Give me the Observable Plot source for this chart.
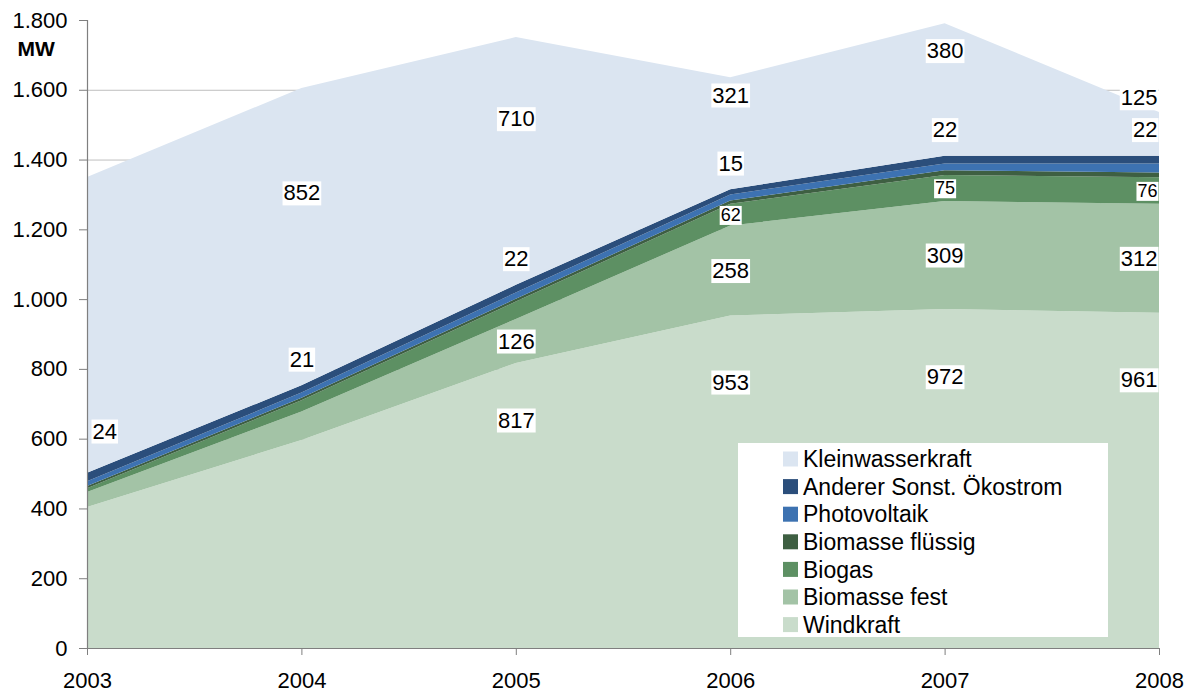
<!DOCTYPE html>
<html>
<head>
<meta charset="utf-8">
<script src="https://cdn.jsdelivr.net/npm/d3@7"></script>
<script src="https://cdn.jsdelivr.net/npm/@observablehq/plot@0.6"></script>
<style>
  html, body { margin: 0; padding: 0; background: white; }
</style>
</head>
<body>
<div id="chart"></div>
<script>
// ---- Data ----
const years = [2003, 2004, 2005, 2006, 2007, 2008];
const seriesNames = ["Windkraft", "Biomasse fest", "Biogas", "Biomasse flüssig", "Photovoltaik", "Anderer Sonst. Ökostrom", "Kleinwasserkraft"];
const windkraft        = [404, 596, 817, 953, 972, 961];
const biomasseFest     = [43, 82, 126, 258, 309, 312];
const biogas           = [11, 32, 50, 62, 75, 76];
const biomasseFluessig = [6, 7, 8, 10, 13, 14];
const photovoltaik     = [14, 15, 18, 17, 20, 26];
const andererSonst     = [24, 21, 22, 15, 22, 22];
const kleinwasserkraft = [848, 852, 710, 321, 380, 125];
const seriesColors = ["#c9dccb", "#a3c3a6", "#5d9063", "#3e5f42", "#3d72b1", "#2b4e7b", "#dbe5f1"];
const yTicks = [0, 200, 400, 600, 800, 1000, 1200, 1400, 1600, 1800];
// years for which a value label is shown, per series
const labeledYears = {
  "Windkraft": [2005, 2006, 2007, 2008],
  "Biomasse fest": [2005, 2006, 2007, 2008],
  "Biogas": [2006, 2007, 2008],
  "Anderer Sonst. Ökostrom": [2003, 2004, 2005, 2006, 2007, 2008],
  "Kleinwasserkraft": [2004, 2005, 2006, 2007, 2008]
};

const values = [windkraft, biomasseFest, biogas, biomasseFluessig, photovoltaik, andererSonst, kleinwasserkraft];
const table = [];
seriesNames.forEach((s, i) => years.forEach((y, j) => table.push({series: s, year: y, value: values[i][j]})));

// label positions derived from the stack
const labels = [];
years.forEach((y, j) => {
  let bottom = 0;
  seriesNames.forEach((s, i) => {
    const v = values[i][j];
    const top = bottom + v;
    if (labeledYears[s] && labeledYears[s].includes(y)) {
      let pos;
      if (s === "Windkraft") pos = bottom + 0.8 * v;
      else if (s === "Anderer Sonst. Ökostrom") pos = top + (j === 0 ? 120 : 75);
      else if (s === "Kleinwasserkraft") pos = bottom + 100 + 0.53 * v;
      else pos = bottom + 0.5 * v;
      labels.push({year: y, pos, text: String(v), size: s === "Biogas" ? 18 : 22});
    }
    bottom = top;
  });
});

const de = d3.formatLocale({decimal: ",", thousands: ".", grouping: [3], currency: ["", " €"]});
const fmt = de.format(",");

const font = "'Liberation Sans', Arial, sans-serif";
const first = years[0], last = years[years.length - 1];

const plot = Plot.plot({
  width: 1190,
  height: 693,
  marginLeft: 87,
  marginRight: 31,
  marginTop: 20,
  marginBottom: 45,
  style: {fontFamily: font, fontSize: "22px", background: "white", color: "black"},
  x: {domain: [first, last]},
  y: {domain: [0, 1800]},
  color: {domain: seriesNames, range: seriesColors},
  marks: [
    Plot.gridY(yTicks.filter(t => t > 0 && t < 1800), {stroke: "#bfbfbf", strokeOpacity: 1}),
    Plot.areaY(table, Plot.stackY({x: "year", y: "value", z: "series", fill: "series", order: seriesNames})),
    Plot.ruleX([first], {stroke: "#7f7f7f", strokeWidth: 1.2}),
    Plot.ruleY([0], {stroke: "#7f7f7f", strokeWidth: 1.2}),
    Plot.axisX(years, {tickSize: 7, tickPadding: 17, tickFormat: d => String(d), stroke: "#7f7f7f", fill: "black", fontSize: 22, label: null}),
    Plot.axisY(yTicks, {tickSize: 8, tickPadding: 12, tickFormat: fmt, stroke: "#7f7f7f", fill: "black", fontSize: 22, label: null}),
    Plot.text(labels.filter(d => d.year === first), {x: "year", y: "pos", text: "text", fontSize: "size", textAnchor: "start", dx: 5, fill: "black"}),
    Plot.text(labels.filter(d => d.year === last), {x: "year", y: "pos", text: "text", fontSize: "size", textAnchor: "end", dx: -2, fill: "black"}),
    Plot.text(labels.filter(d => d.year !== first && d.year !== last), {x: "year", y: "pos", text: "text", fontSize: "size", textAnchor: "middle", fill: "black"}),
    Plot.text(["MW"], {frameAnchor: "top-left", textAnchor: "start", lineAnchor: "top", dx: -70, dy: 21, fontWeight: "bold", fontSize: 21, fill: "black"})
  ]
});

document.getElementById("chart").appendChild(plot);

// white boxes behind the value labels
const svg = d3.select(plot);
svg.selectAll('g[aria-label="text"]').each(function() {
  d3.select(this).selectAll("text").each(function() {
    if (this.textContent === "MW") return;
    const b = this.getBBox();
    const r = document.createElementNS("http://www.w3.org/2000/svg", "rect");
    r.setAttribute("x", b.x - 1);
    r.setAttribute("y", b.y + 1);
    r.setAttribute("width", b.width + 2);
    r.setAttribute("height", b.height - 1);
    r.setAttribute("fill", "white");
    const t = this.getAttribute("transform");
    if (t) r.setAttribute("transform", t);
    this.parentNode.insertBefore(r, this);
  });
});

// legend inside the plot area
const lg = svg.append("g").attr("font-family", font).attr("font-size", 23).attr("text-anchor", "start");
lg.append("rect").attr("x", 738).attr("y", 443).attr("width", 370).attr("height", 194).attr("fill", "white");
const legendOrder = seriesNames.slice().reverse();
legendOrder.forEach((s, i) => {
  const cy = 459 + i * 27.6;
  lg.append("rect").attr("x", 783).attr("y", cy - 7.5).attr("width", 15).attr("height", 15)
    .attr("fill", seriesColors[seriesNames.indexOf(s)]);
  lg.append("text").attr("x", 803).attr("y", cy).attr("dy", "0.36em").attr("text-anchor", "start").attr("fill", "black").text(s);
});
</script>
</body>
</html>
